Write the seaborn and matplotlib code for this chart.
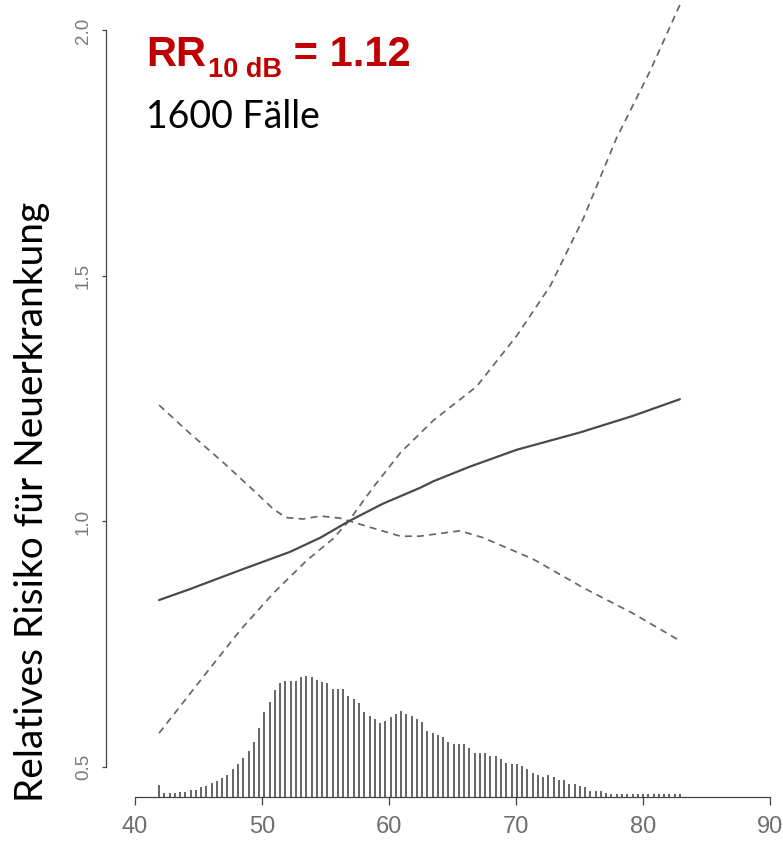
import numpy as np
import matplotlib
matplotlib.use("Agg")
import matplotlib.pyplot as plt
import seaborn as sns

# Exposure-response curve (relative risk vs. noise level in dB)
rr_x = [41.9, 44.3, 48.3, 52.2, 54.6, 56.8, 59.5, 62.4, 63.5, 66.4, 70.05, 75.0, 79.2, 82.9]
rr_y = [0.840, 0.862, 0.901, 0.938, 0.967, 1.000, 1.036, 1.068, 1.082, 1.112, 1.146, 1.181, 1.215, 1.249]

# Upper confidence limit
upper_x = [41.9, 45.6, 48.3, 50.9, 53.5, 55.6, 56.8, 58.8, 60.9, 63.5, 66.9, 70.05,
           72.7, 75.3, 77.9, 80.55, 82.9]
upper_y = [0.569, 0.691, 0.779, 0.854, 0.920, 0.965, 1.000, 1.071, 1.140, 1.206, 1.275,
           1.378, 1.480, 1.617, 1.780, 1.917, 2.052]

# Lower confidence limit
lower_x = [41.9, 44.3, 47.0, 49.6, 50.9, 51.9, 53.2, 54.6, 56.1, 58.8, 60.9, 62.4, 65.6,
           67.4, 71.3, 75.3, 79.2, 82.9]
lower_y = [1.237, 1.180, 1.119, 1.057, 1.025, 1.008, 1.005, 1.011, 1.007, 0.986, 0.970,
           0.970, 0.981, 0.967, 0.924, 0.865, 0.813, 0.757]

# Distribution of exposure levels (100 classes from 41.9 to 82.9 dB)
exposure_bins = np.linspace(41.9, 82.9, 100)
exposure_freq = [
    11.7, 4, 4, 4, 5, 5, 6.7, 6.7, 9.3, 10.7, 14, 15.3, 18.3, 21.7, 27.3, 32.7, 39, 46,
    55, 68.3, 85, 95, 106.7, 114, 116,
    116, 116, 119.3, 121, 120, 116.7, 115, 113.3, 107.3, 107.3, 107.3, 100.7, 97.7, 94,
    85, 80.7, 77.7, 73.3, 75.7, 79.3, 82.3, 86, 82.7, 81, 77.7, 75,
    66, 63.3, 61.3, 59.3, 55, 52.3, 52.3, 52.3, 48.3, 43.3, 43.3, 43.3, 40.7, 40.7, 37.3,
    34, 32.3, 32.3, 30.7, 27.3, 24, 21.3, 20, 21.3, 20, 16.7,
    16.7, 12.7, 12.7, 11, 9.3, 6, 6, 5.7, 3.3,
    3, 3, 2.5, 3, 3, 2.5, 3, 3, 2.5, 3, 3, 3, 2.5, 3,
]

x_ticks = [40, 50, 60, 70, 80, 90]
y_ticks = [0.5, 1.0, 1.5, 2.0]
y_tick_labels = ["0.5", "1.0", "1.5", "2.0"]

sns.set_style("ticks")
plt.rcParams["lines.dashed_pattern"] = [4.0, 3.0]

W, H = 783, 848
fig = plt.figure(figsize=(W / 100, H / 100), dpi=100)
ax = fig.add_axes([106 / W, (H - 796.7) / H, (W - 106) / W, 796.7 / H])

x_lo, x_hi = 37.72, 91.02
y_lo, y_hi = 0.4395, 2.062
ax.set_xlim(x_lo, x_hi)
ax.set_ylim(y_lo, y_hi)

# exposure distribution drawn as thin spikes from the x axis
bar_scale = 0.2465 / max(exposure_freq)
ax.vlines(exposure_bins, y_lo, y_lo + np.array(exposure_freq) * bar_scale,
          color="#444444", linewidth=1.15, clip_on=False)

sns.lineplot(x=upper_x, y=upper_y, ax=ax, color="#666666", linewidth=1.25,
             linestyle="--", sort=False, clip_on=False)
sns.lineplot(x=lower_x, y=lower_y, ax=ax, color="#666666", linewidth=1.25,
             linestyle="--", sort=False)
sns.lineplot(x=rr_x, y=rr_y, ax=ax, color="#4a4a4a", linewidth=1.6, sort=False)

for side in ("top", "right"):
    ax.spines[side].set_visible(False)
ax.spines["left"].set_bounds(0.5, 2.0)
ax.spines["bottom"].set_bounds(40, 90)
for side in ("left", "bottom"):
    ax.spines[side].set_color("#444444")
    ax.spines[side].set_linewidth(0.9)

ax.set_xticks(x_ticks)
ax.set_xticklabels([str(v) for v in x_ticks])
ax.set_yticks(y_ticks)
ax.set_yticklabels(y_tick_labels, rotation=90, va="center")
ax.tick_params(axis="x", direction="out", length=6, width=0.9, color="#444444",
               pad=8, labelsize=17, labelcolor="#6e6e6e")
ax.tick_params(axis="y", direction="out", length=3, width=0.9, color="#444444",
               pad=7, labelsize=13.5, labelcolor="#7a7a7a")
for lab in ax.get_xticklabels():
    lab.set_family(["Liberation Sans Narrow", "Liberation Sans", "DejaVu Sans"])
for lab in ax.get_yticklabels():
    lab.set_family(["Liberation Sans", "DejaVu Sans"])
ax.set_xlabel("")
ax.set_ylabel("")


def fpos(x, y):
    return x / W, 1 - y / H


fig.text(*fpos(32, 502), "Relatives Risiko für Neuerkrankung", rotation=90,
         ha="center", va="center", fontsize=28, color="black",
         family=["Lato", "DejaVu Sans"])

red = "#C00000"
rr_font = ["Liberation Sans", "DejaVu Sans"]
renderer = fig.canvas.get_renderer()
t_main = fig.text(*fpos(146, 66), "RR", fontsize=30, weight="bold", color=red,
                  family=rr_font, va="baseline")
x_end = t_main.get_window_extent(renderer).x1
t_sub = fig.text(x_end / W + 2 / W, 1 - 77 / H, "10 dB", fontsize=19.5, weight="bold",
                 color=red, family=rr_font, va="baseline")
x_end = t_sub.get_window_extent(renderer).x1
fig.text(x_end / W, 1 - 66 / H, " = 1.12", fontsize=30, weight="bold", color=red,
         family=rr_font, va="baseline")

fig.text(*fpos(146, 128), "1600 Fälle", fontsize=27, color="black",
         family=["Lato", "DejaVu Sans"], va="baseline")

fig.savefig("out.png", dpi=100)
